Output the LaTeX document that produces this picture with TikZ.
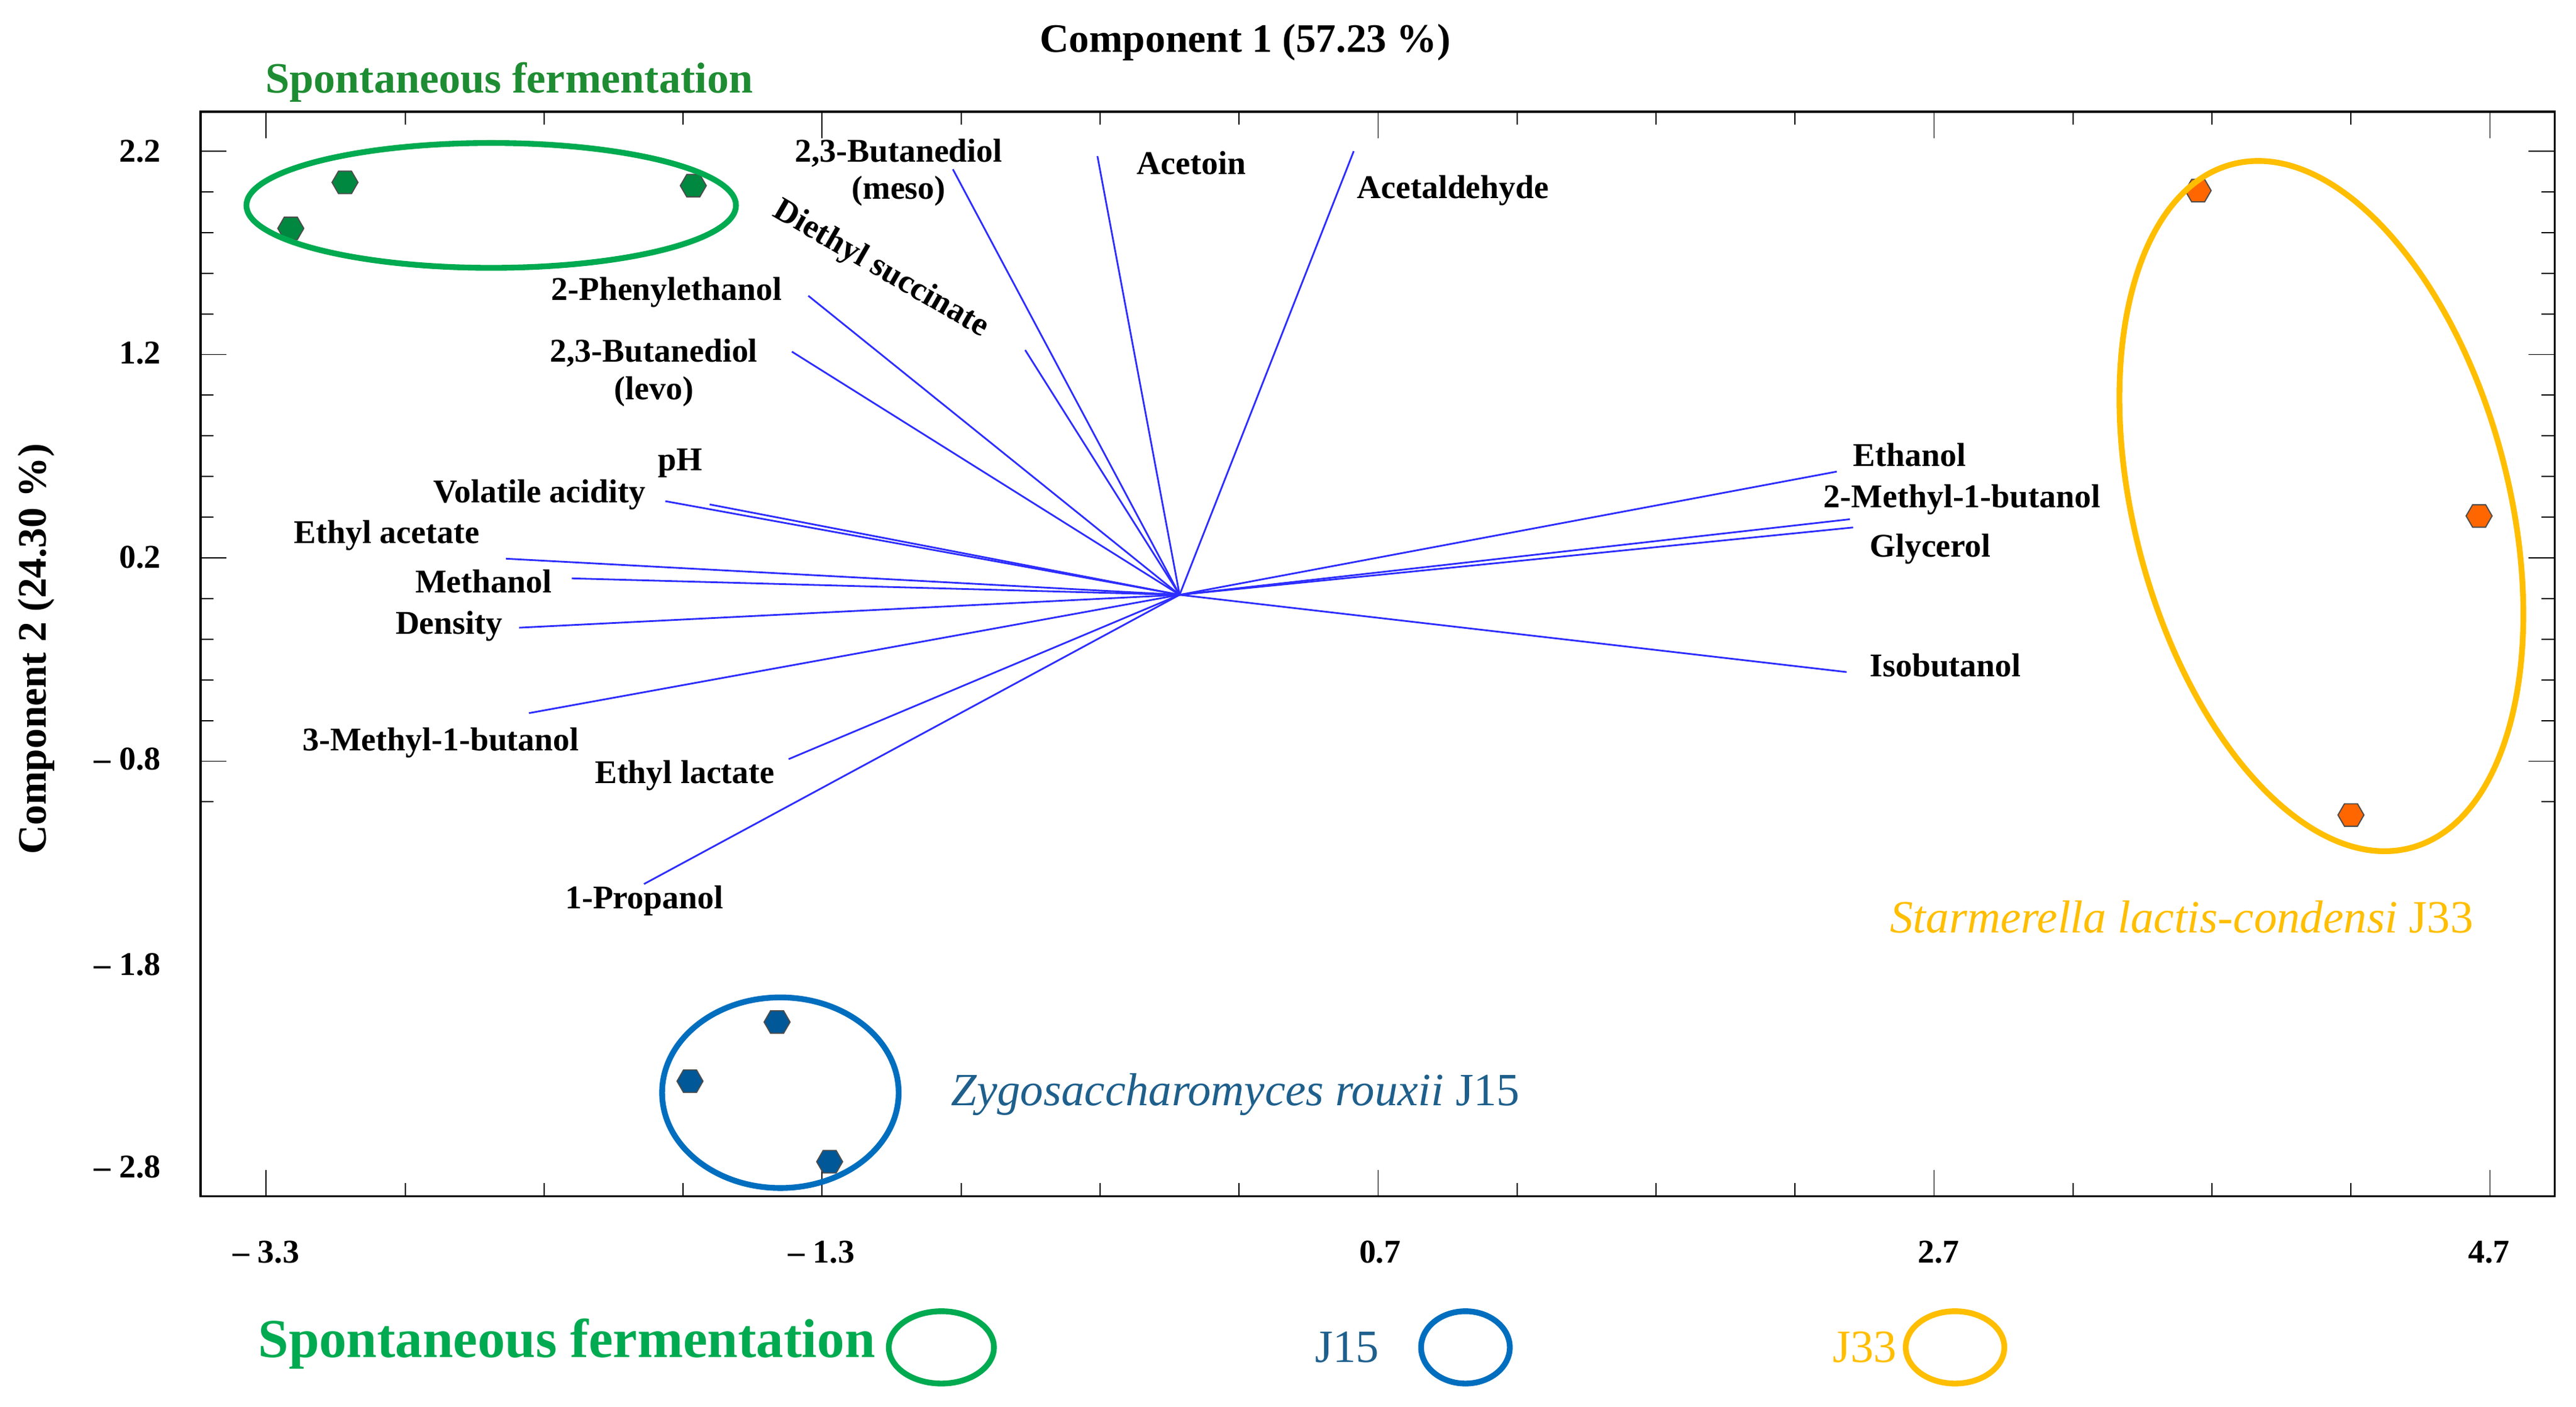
\documentclass[tikz,border=0pt]{standalone}
\usepackage{fontspec}
\usetikzlibrary{shapes.geometric}
\setmainfont{Liberation Serif}
\definecolor{vec}{RGB}{45,45,255}
\definecolor{gr}{RGB}{0,170,80}
\definecolor{grt}{RGB}{30,140,50}
\definecolor{bl}{RGB}{0,110,190}
\definecolor{blt}{RGB}{30,95,140}
\definecolor{orx}{RGB}{255,190,0}
\begin{document}
\begin{tikzpicture}[x=0.02cm,y=-0.02cm,
  v/.style={draw=vec,line width=0.6pt},
  lab/.style={font=\fontsize{11.5}{13}\selectfont\bfseries,inner sep=1pt},
  tk/.style={font=\fontsize{11.5}{12}\selectfont\bfseries},
  pt/.style={regular polygon,regular polygon sides=6,minimum size=9pt,inner sep=0pt,draw=black!70,line width=0.4pt}]
\useasboundingbox (0,0) rectangle (1568,856);
\draw[line width=0.8pt] (122,68) rectangle (1555,728);
% ticks
\foreach \i in {0,...,16}{
  \pgfmathsetmacro\yy{92+\i*24.75}
  \pgfmathsetmacro\len{mod(\i,5)==0?16:8}
  \draw (122,\yy) -- ++(\len,0);
  \draw (1555,\yy) -- ++(-\len,0);}
\foreach \i in {0,...,16}{
  \pgfmathsetmacro\xx{162+\i*84.6}
  \pgfmathsetmacro\len{mod(\i,4)==0?16:8}
  \draw (\xx,728) -- ++(0,-\len);
  \draw (\xx,68) -- ++(0,\len);}
\foreach \y/\t in {92/2.2,215/1.2,339/0.2,462/{\textendash\ 0.8},587/{\textendash\ 1.8},710/{\textendash\ 2.8}}
  \node[tk,anchor=east] at (104,\y) {\t};
\foreach \x/\t in {162/{\textendash\ 3.3},500/{\textendash\ 1.3},840/0.7,1180/2.7,1515/4.7}
  \node[tk] at (\x,762) {\t};
\node[font=\fontsize{14}{15}\selectfont\bfseries] (title) at (758,26) {Component 1 (57.23 \%)};
\node[font=\fontsize{14}{15}\selectfont\bfseries,rotate=90] (ylab) at (22,395) {Component 2 (24.30 \%)};
% vectors
\coordinate (o) at (718,362);
\foreach \n/\x/\y in {a/580/103,b/668/95,c/824/92,d/624/213,e/492/180,f/482/214,g/405/305,h/432/307,i/308/340,j/348/352,k/316/382,l/322/434,m/480/462,n/392/538,p/1118/287,q/1126/316,r/1128/321,s/1124/409}
  {\coordinate (\n) at (\x,\y); \draw[v] (o) -- (\n);}
\node[lab,align=center] (la) at (547,105) {2,3-Butanediol\\(meso)};
\node[lab,anchor=west] (lb) at (690,99) {Acetoin};
\node[lab,anchor=west] (lc) at (824,116) {Acetaldehyde};
\node[lab,rotate=-30] (ld) at (536,164) {Diethyl succinate};
\node[lab,anchor=east] (le) at (478,178) {2-Phenylethanol};
\node[lab,align=center] (lf) at (398,227) {2,3-Butanediol\\(levo)};
\node[lab] (lg) at (414,282) {pH};
\node[lab,anchor=east] (lh) at (395,301) {Volatile acidity};
\node[lab,anchor=east] (li) at (294,326) {Ethyl acetate};
\node[lab,anchor=east] (lj) at (338,354) {Methanol};
\node[lab,anchor=east] (lk) at (308,381) {Density};
\node[lab,anchor=west] (ll) at (182,452) {3-Methyl-1-butanol};
\node[lab,anchor=west] (lm) at (360,472) {Ethyl lactate};
\node[lab,anchor=west] (ln) at (342,548) {1-Propanol};
\node[lab,anchor=west] (lp) at (1126,277) {Ethanol};
\node[lab,anchor=west] (lq) at (1108,304) {2-Methyl-1-butanol};
\node[lab,anchor=west] (lr) at (1136,334) {Glycerol};
\node[lab,anchor=west] (ls) at (1136,405) {Isobutanol};
% groups
\node[pt,fill=gr!80!black] (g1) at (177,139) {};
\node[pt,fill=gr!80!black] (g2) at (210,111) {};
\node[pt,fill=gr!80!black] (g3) at (422,113) {};
\draw[gr,line width=2pt] (299,125) ellipse[x radius=149,y radius=38];
\node[font=\fontsize{15}{16}\selectfont\bfseries,text=grt] (tg) at (310,50) {Spontaneous fermentation};
\node[pt,fill=bl!80!black] (b1) at (473,622) {};
\node[pt,fill=bl!80!black] (b2) at (420,658) {};
\node[pt,fill=bl!80!black] (b3) at (505,707) {};
\draw[bl,line width=2pt] (475,665) ellipse[x radius=72,y radius=58];
\node[font=\fontsize{16}{17}\selectfont,text=blt] (tb) at (752,666) {\textit{Zygosaccharomyces rouxii} J15};
\node[pt,fill=orange!80!red] (o1) at (1338,116) {};
\node[pt,fill=orange!80!red] (o2) at (1509,314) {};
\node[pt,fill=orange!80!red] (o3) at (1431,496) {};
\draw[orx,line width=2pt,rotate around={-75.4:(1413,308)}] (1413,308) ellipse[x radius=215,y radius=114];
\node[font=\fontsize{16}{17}\selectfont,text=orx] (to) at (1328,558) {\textit{Starmerella lactis-condensi} J33};
% legend
\node[font=\fontsize{19}{20}\selectfont\bfseries,text=gr] (lg1) at (345,818) {Spontaneous fermentation};
\draw[gr,line width=2pt] (573,820) ellipse[x radius=32,y radius=22];
\node[font=\fontsize{16}{17}\selectfont,text=blt] (lg2) at (820,820) {J15};
\draw[bl,line width=2pt] (892,820) ellipse[x radius=27,y radius=22];
\node[font=\fontsize{16}{17}\selectfont,text=orx] (lg3) at (1135,820) {J33};
\draw[orx,line width=2pt] (1190,820) ellipse[x radius=30,y radius=22];
\end{tikzpicture}
\end{document}
